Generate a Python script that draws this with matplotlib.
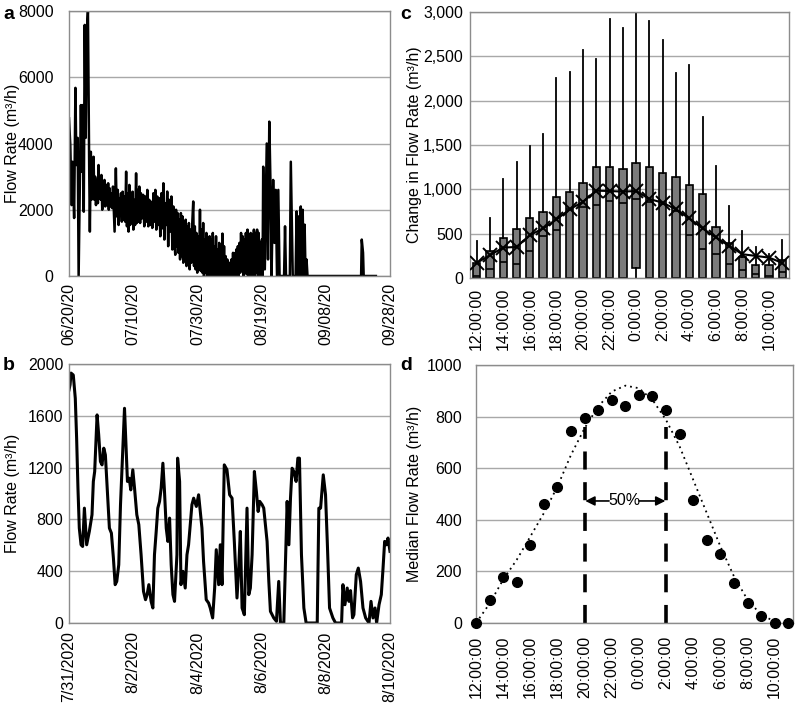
import matplotlib
matplotlib.use("Agg")
import matplotlib.pyplot as plt

plt.rcParams['font.family'] = ['Liberation Sans', 'DejaVu Sans']

# ---------------- Panel a data: (days since 06/20/20, flow rate m3/h) ----------------
a_points = [
    (0.0, 4760), (0.4, 3950), (0.8, 2140), (1.1, 3450), (1.6, 1750), (2.0, 5680), (2.3, 3350),
    (2.7, 4170), (3.0, 0), (3.3, 2140), (3.7, 5160), (4.0, 3150), (4.3, 5160), (4.6, 1940),
    (4.9, 7580), (5.2, 4170), (5.5, 7280), (5.9, 8000), (6.3, 3150), (6.5, 1340), (6.8, 3750),
    (7.0, 2300), (7.2, 3300), (7.4, 2545), (7.65, 3600), (7.9, 2300), (8.15, 3000), (8.4, 2140),
    (8.7, 2900), (9.0, 2200), (9.2, 3350), (9.45, 2400), (9.7, 3000), (9.9, 2300), (10.1, 3050),
    (10.35, 2000), (10.6, 2800), (10.8, 2350), (11.05, 2900), (11.3, 2100), (11.6, 2750),
    (11.9, 2140), (12.2, 2800), (12.4, 2000), (12.65, 2650), (12.9, 2100), (13.2, 2500),
    (13.45, 2050), (13.7, 2700), (13.95, 2000), (14.2, 1340), (14.45, 2600), (14.6, 3250),
    (14.9, 1800), (15.2, 2600), (15.45, 1540), (15.7, 2350), (15.95, 1900), (16.2, 2500),
    (16.45, 1640), (16.7, 2545), (16.95, 1700), (17.2, 2400), (17.5, 1640), (17.8, 3150),
    (18.05, 1500), (18.3, 2500), (18.55, 1340), (18.8, 2750), (19.05, 1540), (19.3, 2500),
    (19.55, 1600), (19.8, 2545), (20.05, 1400), (20.3, 2300), (20.6, 1540), (20.9, 3100),
    (21.15, 1600), (21.4, 2600), (21.65, 1640), (21.9, 2700), (22.15, 1600), (22.4, 2500),
    (22.75, 1740), (23.1, 2450), (23.45, 1500), (23.8, 2400), (24.1, 1640), (24.4, 2600),
    (24.7, 1500), (25.0, 2300), (25.3, 1540), (25.6, 2240), (25.95, 1450), (26.3, 2500),
    (26.6, 1640), (26.9, 2600), (27.2, 1400), (27.5, 2400), (27.8, 1540), (28.1, 2350),
    (28.45, 1200), (28.8, 2500), (29.1, 1440), (29.4, 2800), (29.7, 1100), (30.0, 2200),
    (30.3, 1540), (30.6, 2550), (30.9, 900), (31.2, 2300), (31.55, 1340), (31.9, 2400),
    (32.2, 800), (32.5, 2100), (32.8, 1140), (33.1, 640), (33.35, 2000), (33.6, 900),
    (33.85, 1900), (34.1, 700), (34.35, 1700), (34.6, 500), (34.85, 1900), (35.1, 600),
    (35.35, 1800), (35.6, 400), (35.85, 1600), (36.1, 600), (36.35, 1700), (36.6, 300),
    (36.85, 1500), (37.1, 450), (37.35, 1600), (37.6, 200), (37.85, 1400), (38.1, 400),
    (38.4, 1600), (38.7, 2250), (38.95, 300), (39.2, 1500), (39.45, 200), (39.7, 1300),
    (39.95, 100), (40.2, 1200), (40.5, 200), (40.8, 2000), (41.05, 150), (41.3, 1400),
    (41.55, 100), (41.8, 1600), (42.05, 0), (42.3, 1100), (42.55, 100), (42.8, 1300),
    (43.05, 0), (43.3, 1000), (43.55, 50), (43.8, 1200), (44.05, 0), (44.3, 1100),
    (44.55, 150), (44.8, 1300), (45.05, 0), (45.3, 900), (45.55, 0), (45.8, 1200),
    (46.05, 50), (46.3, 800), (46.55, 0), (46.8, 1000), (47.05, 0), (47.3, 700), (47.55, 0),
    (47.8, 1280), (48.05, 0), (48.3, 900), (48.55, 0), (48.8, 600), (49.05, 0), (49.3, 500),
    (49.6, 280), (49.85, 0), (50.1, 400), (50.35, 0), (50.6, 500), (50.85, 0), (51.1, 700),
    (51.35, 0), (51.6, 690), (51.85, 0), (52.1, 800), (52.35, 100), (52.6, 900), (52.85, 0),
    (53.1, 1000), (53.35, 100), (53.6, 1300), (53.85, 200), (54.1, 1200), (54.35, 0),
    (54.6, 1100), (54.85, 100), (55.1, 1300), (55.35, 50), (55.6, 1400), (55.85, 0),
    (56.1, 1200), (56.35, 100), (56.6, 1300), (56.85, 0), (57.1, 1250), (57.35, 100),
    (57.6, 1400), (57.85, 0), (58.1, 1300), (58.35, 100), (58.6, 1400), (58.85, 0),
    (59.1, 1300), (59.35, 50), (59.6, 1000), (59.85, 0), (60.1, 1100), (60.3, 0),
    (60.5, 3300), (61.0, 200), (61.6, 4000), (62.0, 500), (62.4, 4660), (62.8, 2600),
    (63.1, 0), (63.6, 2900), (64.0, 1000), (64.4, 2600), (64.8, 0), (65.2, 2600), (65.6, 0),
    (67.0, 0), (67.3, 1500), (67.6, 0), (68.8, 0), (69.1, 3450), (69.4, 1800), (69.7, 0),
    (70.6, 0), (70.9, 1950), (71.3, 0), (71.6, 1800), (71.9, 0), (72.2, 2100), (72.5, 0),
    (72.8, 2000), (73.1, 0), (73.4, 1550), (73.7, 0), (74.0, 500), (74.3, 0), (91.0, 0),
    (91.2, 1100), (91.6, 700), (91.8, 0), (95.6, 0),
]
a_days = [p[0] for p in a_points]
a_flow = [p[1] for p in a_points]
a_ticks = [0, 20, 40, 60, 80, 100]
a_ticklabels = ["06/20/20", "07/10/20", "07/30/20", "08/19/20", "09/08/20", "09/28/20"]

# ---------------- Panel b data: (hours since 7/31/2020, flow rate m3/h) ----------------
b_points = [
    (0.0, 1800), (0.8, 1840), (1.5, 1930), (3.2, 1915), (4.7, 1735), (5.7, 1427), (6.7, 1041),
    (7.7, 733), (9.0, 604), (10.2, 591), (11.5, 887), (13.2, 604), (15.2, 707), (17.2, 836),
    (18.2, 1093), (19.2, 1170), (21.0, 1607), (22.2, 1453), (23.5, 1247), (24.7, 1221),
    (26.0, 1350), (27.2, 1298), (28.7, 1015), (30.2, 733), (31.7, 694), (33.2, 501),
    (34.5, 296), (35.7, 321), (37.2, 450), (38.5, 913), (40.2, 1324), (41.5, 1658),
    (42.7, 1350), (43.7, 1093), (45.0, 1118), (46.2, 1028), (47.7, 1183), (49.0, 1041),
    (50.7, 836), (52.2, 759), (53.9, 527), (55.7, 244), (57.2, 180), (58.4, 219), (59.7, 296),
    (61.4, 167), (62.7, 116), (63.9, 527), (65.2, 707), (66.4, 887), (67.7, 939), (68.9, 1041),
    (70.2, 1234), (71.4, 1015), (72.7, 733), (73.9, 630), (75.2, 810), (76.4, 450), (77.7, 219),
    (78.9, 167), (80.7, 527), (81.2, 1273), (82.7, 1093), (83.7, 296), (85.2, 399), (86.9, 270),
    (88.2, 527), (89.4, 604), (91.9, 913), (93.2, 964), (95.2, 900), (96.9, 990), (99.4, 733),
    (100.6, 476), (102.6, 180), (104.4, 154), (105.6, 116), (107.4, 39), (108.9, 270),
    (110.1, 566), (111.9, 296), (113.1, 604), (114.4, 296), (116.1, 1221), (118.1, 1183),
    (120.1, 990), (121.9, 964), (123.6, 630), (125.6, 193), (126.9, 424), (128.1, 707),
    (129.4, 116), (131.1, 64), (133.1, 887), (134.4, 219), (135.6, 270), (136.9, 527),
    (138.6, 1170), (140.1, 1015), (141.4, 861), (142.6, 939), (144.4, 913), (145.6, 887),
    (148.1, 630), (149.4, 321), (150.6, 90), (153.1, 39), (155.1, 13), (156.8, 321),
    (158.1, 0), (160.6, 0), (163.1, 939), (164.4, 604), (165.6, 964), (166.8, 1195),
    (168.1, 1170), (169.8, 1093), (171.1, 1273), (172.3, 1273), (173.8, 527), (175.6, 116),
    (177.3, 0), (185.6, 0), (186.8, 887), (188.1, 887), (190.1, 1144), (191.8, 990),
    (193.1, 630), (194.8, 116), (197.3, 39), (199.3, 0), (203.8, 0), (204.8, 296),
    (206.3, 141), (208.0, 270), (209.3, 167), (210.5, 250), (212.0, 40), (213.0, 64),
    (214.8, 373), (216.3, 424), (218.0, 321), (219.8, 116), (221.8, 39), (224.3, 0),
    (225.8, 167), (227.3, 39), (228.8, 116), (230.0, 0), (231.8, 141), (233.5, 219),
    (234.8, 424), (236.0, 630), (237.3, 604), (238.5, 656), (240.0, 553),
]
b_hours = [p[0] for p in b_points]
b_flow = [p[1] for p in b_points]
b_ticks = [0, 48, 96, 144, 192, 240]
b_ticklabels = ["7/31/2020", "8/2/2020", "8/4/2020", "8/6/2020", "8/8/2020", "8/10/2020"]

# ---------------- Panel c data (hourly change in flow rate) ----------------
hour_labels = ["12:00:00", "13:00:00", "14:00:00", "15:00:00", "16:00:00", "17:00:00",
               "18:00:00", "19:00:00", "20:00:00", "21:00:00", "22:00:00", "23:00:00",
               "0:00:00", "1:00:00", "2:00:00", "3:00:00", "4:00:00", "5:00:00",
               "6:00:00", "7:00:00", "8:00:00", "9:00:00", "10:00:00", "11:00:00"]
c_min = [0, 0, 0, 0, 0, 0, 0, 0, 0, 0, 0, 0, 0, 0, 0, 0, 0, 0, 0, 0, 0, 0, 0, 0]
c_q1 = [0, 0, 0, 0, 0, 0, 0, 0, 0, 0, 0, 0, 113, 0, 0, 0, 0, 0, 0, 0, 0, 0, 0, 0]
c_med = [25, 102, 181, 162, 306, 472, 540, 780, 804, 823, 868, 849,
         887, 860, 830, 760, 483, 332, 275, 162, 87, 49, 20, 68]
c_q3 = [170, 306, 453, 547, 672, 740, 909, 974, 1072, 1249, 1249, 1230,
        1302, 1257, 1189, 1144, 1045, 944, 577, 396, 238, 151, 143, 200]
c_max = [419, 672, 1117, 1313, 1494, 1623, 2257, 2321, 2566, 2472, 2925, 2815,
         3050, 2895, 2680, 2313, 2400, 1812, 1268, 815, 528, 351, 270, 434]
c_mean = [170, 257, 343, 350, 483, 559, 660, 774, 860, 985, 981, 974,
          981, 891, 849, 774, 672, 559, 457, 362, 268, 249, 230, 170]

# ---------------- Panel d data (median flow rate per hour) ----------------
d_median = [0, 90, 177, 159, 301, 462, 529, 745, 796, 826, 865, 843,
            883, 880, 825, 732, 477, 323, 268, 155, 77, 28, 0, 0]
d_fit_x = [0, 1, 2, 3, 4, 5, 6, 7, 8, 9, 10, 11, 12, 13, 14, 15, 16, 17, 18, 19, 20, 21, 22]
d_fit_y = [0, 75, 168, 245, 335, 426, 529, 652, 755, 839, 897, 920, 910, 865, 787,
           684, 555, 426, 297, 181, 90, 32, 6]
d_bounds = [8, 14]
d_bound_top = 760
d_label_y = 473

# ---------------- Figure ----------------
fig = plt.figure(figsize=(8.0, 7.04), dpi=100)
W, H = 800, 704

def add_ax(l, t, r, b):
    return fig.add_axes([l / W, 1 - b / H, (r - l) / W, (b - t) / H])

axa = add_ax(69, 11, 390, 276)
axb = add_ax(69, 364, 390, 623)
axc = add_ax(470, 12, 789, 278)
axd = add_ax(476, 365, 793, 623)

grid_col = '#a8a8a8'
spine_col = '#8c8c8c'
FS = 11.5

def style(ax, ypad, xpad):
    for s in ax.spines.values():
        s.set_color(spine_col)
        s.set_linewidth(1.0)
    ax.tick_params(axis='both', length=0, labelsize=FS, colors='black')
    ax.tick_params(axis='y', pad=ypad)
    ax.tick_params(axis='x', pad=xpad, labelrotation=90)
    ax.yaxis.grid(True, color=grid_col, linewidth=1.0)
    ax.set_axisbelow(True)

# Panel a
axa.plot(a_days, a_flow, color='black', linewidth=1.8)
axa.set_xlim(0, 100)
axa.set_ylim(0, 8000)
axa.set_yticks([0, 2000, 4000, 6000, 8000])
axa.set_xticks(a_ticks)
axa.set_xticklabels(a_ticklabels)
style(axa, 11, 5)
axa.set_ylabel("Flow Rate (m³/h)", fontsize=FS)
axa.yaxis.set_label_coords(-0.152, 0.5)

# Panel b
axb.plot(b_hours, b_flow, color='black', linewidth=2.2)
axb.set_xlim(0, 240)
axb.set_ylim(0, 2000)
axb.set_yticks([0, 400, 800, 1200, 1600, 2000])
axb.set_xticks(b_ticks)
axb.set_xticklabels(b_ticklabels)
style(axb, 4, 6)
axb.set_ylabel("Flow Rate (m³/h)", fontsize=FS)
axb.yaxis.set_label_coords(-0.152, 0.5)

# Panel c
pos = [i + 0.5 for i in range(len(hour_labels))]
stats = []
for i in range(len(hour_labels)):
    stats.append(dict(med=c_med[i], q1=c_q1[i], q3=c_q3[i],
                      whislo=c_min[i], whishi=c_max[i], fliers=[]))
axc.bxp(stats, positions=pos, widths=0.55, patch_artist=True, showcaps=False,
        showfliers=False,
        boxprops=dict(facecolor='#7b7b7b', edgecolor='black', linewidth=1.2),
        medianprops=dict(color='black', linewidth=1.2),
        whiskerprops=dict(color='black', linewidth=1.3))
axc.plot(pos, c_mean, color='black', linewidth=1.5, marker='x',
         markersize=10, markeredgewidth=1.4, zorder=5)
axc.set_xlim(0, 24)
axc.set_ylim(0, 3000)
axc.set_yticks([0, 500, 1000, 1500, 2000, 2500, 3000])
axc.set_yticklabels(["0", "500", "1,000", "1,500", "2,000", "2,500", "3,000"])
axc.set_xticks(pos[::2])
axc.set_xticklabels(hour_labels[::2])
style(axc, 5, 7)
axc.set_ylabel("Change in Flow Rate (m³/h)", fontsize=FS)
axc.yaxis.set_label_coords(-0.150, 0.5)

# Panel d
dx = list(range(len(d_median)))
axd.plot(d_fit_x, d_fit_y, color='black', linestyle=(0, (1, 2.2)), linewidth=1.3)
axd.plot(dx, d_median, 'o', color='black', markersize=7, zorder=5, clip_on=False)
for xb in d_bounds:
    axd.vlines(xb, 0, d_bound_top, colors='black', linestyles=(0, (5, 3.5)), linewidth=2.6)
mid = (d_bounds[0] + d_bounds[1]) / 2
axd.text(mid - 0.1, d_label_y, "50%", ha='center', va='center', fontsize=FS)
axd.annotate("", xy=(d_bounds[0] + 0.05, d_label_y), xytext=(mid - 1.2, d_label_y),
             arrowprops=dict(arrowstyle='-|>', color='black', lw=1.2, mutation_scale=14,
                             shrinkA=0, shrinkB=0))
axd.annotate("", xy=(d_bounds[1] - 0.05, d_label_y), xytext=(mid + 1.0, d_label_y),
             arrowprops=dict(arrowstyle='-|>', color='black', lw=1.2, mutation_scale=14,
                             shrinkA=0, shrinkB=0))
axd.set_xlim(0, 23.35)
axd.set_ylim(0, 1000)
axd.set_yticks([0, 200, 400, 600, 800, 1000])
axd.set_xticks(dx[::2])
axd.set_xticklabels(hour_labels[::2])
style(axd, 10, 9)
axd.set_ylabel("Median Flow Rate (m³/h)", fontsize=FS)
axd.yaxis.set_label_coords(-0.170, 0.5)

# panel letters
for txt, x, y in [("a", 3, 19), ("b", 3, 370), ("c", 400, 19), ("d", 400, 370)]:
    fig.text(x / W, 1 - y / H, txt, fontsize=14, fontweight='bold', va='baseline', ha='left')

fig.savefig("out.png", dpi=100)
